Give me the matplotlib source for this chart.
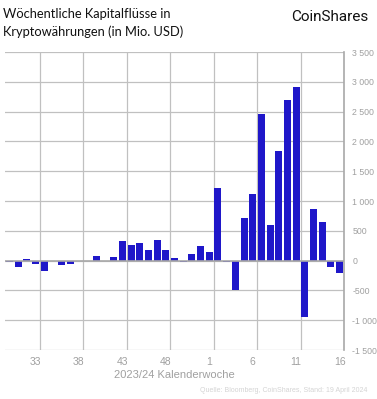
import matplotlib.pyplot as plt
import numpy as np

# weekly flows, mio USD, calendar weeks 30/2023 .. 16/2024
weeks = list(range(30, 53)) + list(range(1, 17))
flows = [-20, -107, 22, -56, -174, 0, -73, -56, 0, 0,
         73, 0, 56, 325, 258, 292, 174, 342, 174, 38,
         -22, 107, 241, 140, 1218, -22, -497, 713, 1117, 2466,
         595, 1842, 2701, 2921, -949, 865, 646, -107, -208]
tick_weeks = [33, 38, 43, 48, 1, 6, 11, 16]
y_ticks = [-1500, -1000, -500, 0, 500, 1000, 1500, 2000, 2500, 3000, 3500]
y_labels = ["-1 500", "-1 000", "-500", "0", "500", "1 000", "1 500",
            "2 000", "2 500", "3 000", "3 500"]

BAR = "#1f17c9"
GRID = "#c0c0c0"
TXT = "#a0a0a0"

fig = plt.figure(figsize=(3.77, 3.99), dpi=100)
ax = fig.add_axes([5/377, 49/399, 339/377, 298/399])

x = np.arange(len(weeks))
ax.bar(x, flows, width=0.8, color=BAR, zorder=3)

ax.set_xlim(-0.5, len(weeks) - 0.5)
ax.set_ylim(-1500, 3500)

# grid: horizontal at value ticks, vertical at the right edge of labelled weeks
for v in y_ticks:
    ax.axhline(v, color=GRID, lw=0.9, zorder=1)
tick_idx = [weeks.index(w) for w in tick_weeks]
for i in tick_idx[:-1]:
    ax.axvline(i + 0.5, color=GRID, lw=0.9, zorder=1)
ax.axhline(0, color="#a8a8a8", lw=1.2, zorder=4)

for s in ["top", "left", "bottom"]:
    ax.spines[s].set_visible(False)
ax.spines["right"].set_color("#a8a8a8")
ax.spines["right"].set_linewidth(1.2)

ax.yaxis.tick_right()
ax.set_yticks(y_ticks)
ax.set_yticklabels(y_labels, fontsize=6.3, color=TXT, family="Liberation Sans")
ax.tick_params(axis="y", length=0, pad=6)
ax.set_xticks(tick_idx)
ax.set_xticklabels([str(w) for w in tick_weeks], fontsize=7.5, color=TXT,
                   family="Liberation Sans")
ax.tick_params(axis="x", length=0, pad=5)

fig.text(174.5/377, 1 - 375/399, "2023/24 Kalenderwoche", ha="center",
         va="center", fontsize=8, color=TXT, family="Liberation Sans")
fig.text(367/377, 1 - 390/399, "Quelle: Bloomberg, CoinShares, Stand: 19 April 2024",
         ha="right", va="center", fontsize=5, color="#d4d4d4",
         family="Liberation Sans")

fig.text(3/377, 1 - 14/399, "Wöchentliche Kapitalflüsse in", ha="left",
         va="center", fontsize=9.3, color="#111111", family="Lato")
fig.text(3/377, 1 - 32/399, "Kryptowährungen (in Mio. USD)", ha="left",
         va="center", fontsize=9.3, color="#111111", family="Lato")
fig.text(368/377, 1 - 17/399, "CoinShares", ha="right", va="center",
         fontsize=11, color="#111111", family="Roboto")

fig.savefig("out.png", dpi=100)
